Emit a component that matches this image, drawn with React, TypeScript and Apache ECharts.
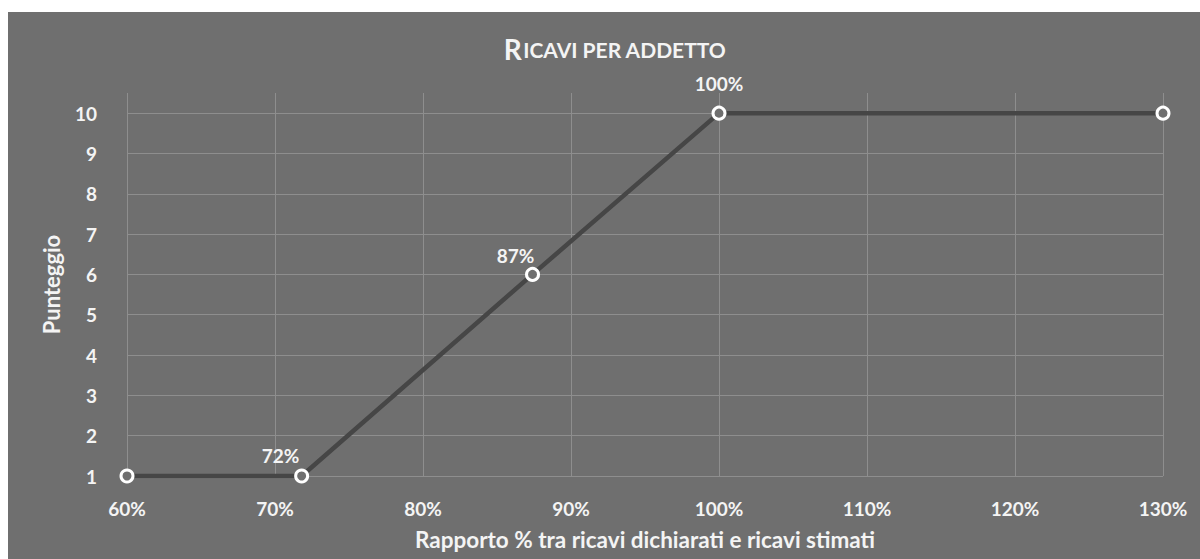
import React, { useEffect, useRef } from "react";
import * as echarts from "echarts";

const titleText = "Ricavi per addetto";
const xAxisName = "Rapporto % tra ricavi dichiarati e ricavi stimati";
const yAxisName = "Punteggio";
const xValues = [60, 71.8, 87.4, 100, 130];
const yValues = [1, 1, 6, 10, 10];
const showLabel = [false, true, true, true, false];
const yTicks = [1, 2, 3, 4, 5, 6, 7, 8, 9, 10];

const BG = "#6f6f6f";
const TXT = "#f4f4f4";
const FONT = "Lato, 'Open Sans', sans-serif";
const labelOffsets: [number, number][] = [
  [0, 0],
  [-21, -21],
  [-17, -19],
  [0, -30],
  [0, 0],
];

export default function App() {
  const ref = useRef<HTMLDivElement>(null);
  useEffect(() => {
    if (!ref.current) return;
    const chart = echarts.init(ref.current, null, { renderer: "svg" });
    const first = titleText.charAt(0).toUpperCase();
    const rest = titleText.slice(1).toUpperCase();
    chart.setOption({
      animation: false,
      backgroundColor: BG,
      title: {
        text: `{a|${first}}{b|${rest}}`,
        left: 602,
        textAlign: "center",
        top: 18,
        textStyle: {
          rich: {
            a: { fontSize: 28, fontWeight: "bold", color: TXT, fontFamily: FONT },
            b: { fontSize: 21, fontWeight: "bold", color: TXT, fontFamily: FONT, padding: [0, 0, 0, 1] },
          },
        },
      },
      grid: { left: 119, right: 37, top: 81, bottom: 83 },
      xAxis: {
        type: "value",
        min: 60,
        max: 130,
        interval: 10,
        name: xAxisName,
        nameLocation: "middle",
        nameGap: 52,
        nameTextStyle: { color: TXT, fontSize: 22.5, fontWeight: "bold", fontFamily: FONT },
        axisLine: { show: false },
        axisTick: { show: false },
        axisLabel: {
          color: TXT,
          fontSize: 19,
          fontWeight: "bold",
          fontFamily: FONT,
          margin: 23,
          formatter: (v: number) => `${v}%`,
        },
        splitLine: { show: true, lineStyle: { color: "#8e8e8e", width: 1 } },
      },
      yAxis: {
        type: "value",
        min: 1,
        max: 10.5,
        interval: 1,
        name: yAxisName,
        nameLocation: "middle",
        nameGap: 65,
        nameTextStyle: { color: TXT, fontSize: 22, fontWeight: "bold", fontFamily: FONT },
        axisLine: { show: false },
        axisTick: { show: false, customValues: yTicks },
        axisLabel: {
          color: TXT,
          fontSize: 19,
          fontWeight: "bold",
          fontFamily: FONT,
          margin: 30,
          customValues: yTicks,
          formatter: (v: number) => (Number.isInteger(v) ? `${v}` : ""),
        },
        splitLine: { show: true, lineStyle: { color: "#8e8e8e", width: 1 } },
      },
      series: [
        {
          type: "line",
          data: xValues.map((x, i) => ({
            value: [x, yValues[i]],
            label: {
              show: showLabel[i],
              position: "inside",
              offset: labelOffsets[i],
              formatter: `${Math.round(x)}%`,
              color: TXT,
              fontSize: 19,
              fontWeight: "bold",
              fontFamily: FONT,
            },
          })),
          symbol: "circle",
          symbolSize: 12,
          itemStyle: { color: BG, borderColor: "#ffffff", borderWidth: 3 },
          lineStyle: { color: "#464646", width: 4.5 },
          z: 3,
        },
      ],
    });
    return () => chart.dispose();
  }, []);
  return (
    <div
      ref={ref}
      style={{ position: "absolute", left: 8, top: 12, width: 1192, height: 547 }}
    />
  );
}
